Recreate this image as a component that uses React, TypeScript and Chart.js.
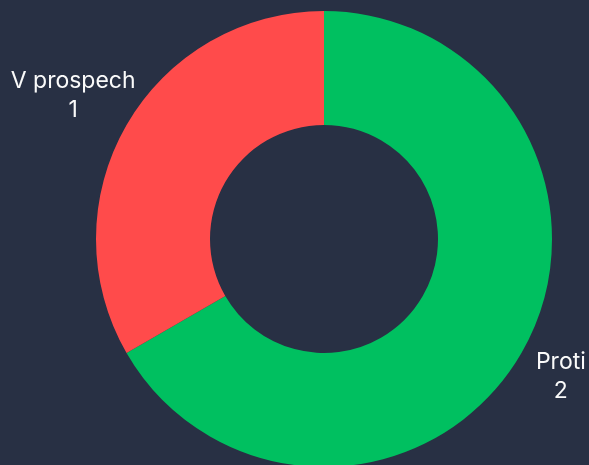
import React, { useEffect, useRef } from "react";
import { Chart, registerables } from "chart.js";

Chart.register(...registerables);

const categories = ["Proti", "V prospech"];
const values = [2, 1];
const colors = ["#00C060", "#FF4B4B"];

const BG = "#283044";

const outsideLabels = {
  id: "outsideLabels",
  afterDatasetsDraw(chart: any) {
    const ctx = chart.ctx;
    const meta = chart.getDatasetMeta(0);
    ctx.save();
    ctx.fillStyle = "#FAFAFA";
    ctx.font = "23px Inter";
    ctx.textAlign = "center";
    ctx.textBaseline = "middle";
    meta.data.forEach((arc: any, i: number) => {
      const p = arc.getProps(["x", "y", "startAngle", "endAngle", "outerRadius"], true);
      const mid = (p.startAngle + p.endAngle) / 2;
      const d = p.outerRadius * 1.235;
      const cx = p.x + Math.cos(mid) * d - 7;
      const cy = p.y + Math.sin(mid) * d - 3;
      const lh = 29;
      ctx.fillText(categories[i], cx, cy - lh / 2);
      ctx.fillText(String(values[i]), cx, cy + lh / 2);
    });
    ctx.restore();
  },
};

export default function App() {
  const ref = useRef<HTMLCanvasElement>(null);
  useEffect(() => {
    document.body.style.margin = "0";
    document.body.style.background = BG;
    const chart = new Chart(ref.current!, {
      type: "doughnut",
      data: {
        labels: categories,
        datasets: [
          {
            data: values,
            backgroundColor: colors,
            borderWidth: 0,
          },
        ],
      },
      options: {
        responsive: false,
        animation: false,
        cutout: "50%",
        layout: { padding: { left: 96, right: 37, top: 11, bottom: 11 } },
        plugins: {
          legend: { display: false },
          tooltip: { enabled: false },
        },
      },
      plugins: [outsideLabels],
    });
    return () => chart.destroy();
  }, []);
  return (
    <div style={{ width: 589, height: 465, overflow: "hidden", background: BG }}>
      <canvas ref={ref} width={589} height={478} style={{ display: "block" }} />
    </div>
  );
}
